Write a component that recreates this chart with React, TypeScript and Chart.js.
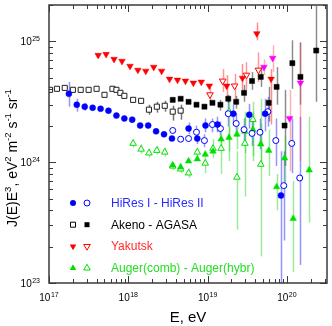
import React, { useEffect, useRef } from 'react';
import { Chart, registerables } from 'chart.js';

Chart.register(...registerables);

const FONT = '"Liberation Sans", Arial, Helvetica, sans-serif';

const xMin = 1e17;
const xMax = 3.2e20;
const yMin = 1e23;
const yMax = 2e25;
const xTickDecades = [17, 18, 19, 20];
const yTickDecades = [23, 24, 25];
const xTitle = 'E, eV';
const legendLabels = ['HiRes I - HiRes II', 'Akeno - AGASA', 'Yakutsk', 'Auger(comb) - Auger(hybr)'];

// HiRes I (filled circles)
const hiresIE = [1.78e17, 2.24e17, 2.82e17, 3.55e17, 4.47e17, 5.62e17, 7.08e17, 8.91e17, 1.12e18, 1.41e18, 1.78e18, 2.24e18, 2.82e18, 3.55e18, 5.75e18, 7.4e18, 9.4e18, 1.33e19, 2.11e19, 3.35e19, 5.31e19, 8.41e19];
const hiresIJ = [3.68e24, 2.99e24, 2.88e24, 2.82e24, 2.77e24, 2.67e24, 2.43e24, 2.3e24, 2.25e24, 2.01e24, 2.01e24, 1.8e24, 1.7e24, 1.57e24, 1.9e24, 1.57e24, 2.01e24, 2.05e24, 2.52e24, 2.47e24, 2.52e24, 5.3e23];
const hiresIHi = [4.61e24, 3.35e24, 3.1e24, null, null, null, null, null, null, null, null, null, null, null, 2.13e24, 1.77e24, 2.3e24, 2.38e24, 2.99e24, 3.04e24, 3.35e24, 1.23e24];
const hiresILo = [2.88e24, 2.62e24, 2.67e24, null, null, null, null, null, null, null, null, null, null, null, 1.7e24, 1.41e24, 1.77e24, 1.77e24, 2.05e24, 1.9e24, 1.8e24, 5e22];

// HiRes II (open circles)
const hiresIIE = [3.63e18, 4.57e18, 5.75e18, 7.24e18, 9.12e18, 1.15e19, 1.45e19, 1.82e19, 2.29e19, 2.88e19, 3.63e19, 4.57e19, 5.75e19, 7.24e19, 9.12e19, 1.15e20, 1.45e20];
const hiresIIJ = [1.83e24, 1.55e24, 1.57e24, 1.77e24, 1.51e24, 2.05e24, 1.9e24, 2.52e24, 2.09e24, 1.86e24, 1.73e24, 1.77e24, 2.62e24, 1.51e24, 6.4e23, 1.43e24, 7.4e23];
const hiresIIHi = [null, null, null, 2.01e24, 1.7e24, 2.3e24, 2.17e24, 3.16e24, 2.52e24, 2.3e24, 2.17e24, 2.3e24, 3.47e24, 2.3e24, 1.23e24, 2.3e24, 2.38e24];
const hiresIILo = [null, null, null, 1.57e24, 1.33e24, 1.77e24, 1.66e24, 1.97e24, 1.63e24, 1.49e24, 1.36e24, 1.28e24, 1.97e24, 9.3e23, 2.25e23, 8.1e23, 1.41e23];

// Akeno (open squares)
const akenoE = [1.03e17, 1.26e17, 1.58e17, 2.0e17, 2.51e17, 3.16e17, 3.98e17, 5.01e17, 6.31e17, 7.08e17, 7.94e17, 8.91e17, 1.15e18, 1.45e18, 1.82e18, 2.29e18, 2.88e18, 3.63e18, 4.57e18];
const akenoJ = [3.97e24, 4.05e24, 4.12e24, 3.97e24, 3.97e24, 3.97e24, 4.05e24, 3.61e24, 4.05e24, 3.97e24, 3.75e24, 3.54e24, 3.28e24, 3.22e24, 2.72e24, 2.88e24, 2.93e24, 2.62e24, 2.67e24];
const akenoHi = [null, null, null, null, null, null, null, null, null, null, null, null, null, null, 2.99e24, 3.16e24, 3.22e24, 2.93e24, 2.99e24];
const akenoLo = [null, null, null, null, null, null, null, null, null, null, null, null, null, null, 2.47e24, 2.57e24, 2.62e24, 2.21e24, 2.25e24];

// AGASA (filled squares)
const agasaE = [3.63e18, 4.57e18, 5.75e18, 7.24e18, 9.12e18, 1.15e19, 1.45e19, 1.82e19, 2.29e19, 2.88e19, 3.63e19, 4.68e19, 5.89e19, 7.41e19, 9.33e19, 1.17e20, 1.48e20, 2.34e20];
const agasaJ = [3.28e24, 3.35e24, 3.16e24, 2.99e24, 2.88e24, 3.1e24, 2.99e24, 3.35e24, 3.16e24, 3.75e24, 4.7e24, 5.08e24, 3.1e24, 4.2e24, 2.01e24, 6.6e24, 5.08e24, 8.4e24];
const agasaHi = [null, null, null, null, null, null, 3.28e24, 3.61e24, 3.54e24, 4.36e24, 5.57e24, 6.12e24, 4.2e24, 6.12e24, 3.97e24, 1.02e25, 9.8e24, 1.97e25];
const agasaLo = [null, null, null, null, null, null, 2.67e24, 3.1e24, 2.77e24, 3.16e24, 3.97e24, 4.2e24, 2.17e24, 2.99e24, 9.3e23, 4.05e24, 2.99e24, 3.16e24];

// Yakutsk (filled down triangles)
const yakE = [4.17e17, 5.25e17, 6.61e17, 8.32e17, 1.05e18, 1.32e18, 1.66e18, 2.09e18, 2.63e18, 3.31e18, 4.17e18, 5.25e18, 6.61e18, 8.32e18, 1.05e19, 1.74e19, 2.75e19, 4.17e19, 6.31e19];
const yakJ = [7.68e24, 7.82e24, 7.12e24, 6.86e24, 6.24e24, 5.79e24, 5.68e24, 6.12e24, 5.68e24, 4.88e24, 4.79e24, 4.7e24, 4.53e24, 4.61e24, 4.28e24, 4.28e24, 4.97e24, 1.16e25, 4.88e24];
const yakHi = [null, null, null, null, null, null, null, null, null, null, null, null, null, null, null, 5.26e24, 6.48e24, 1.43e25, 5.9e24];
const yakLo = [null, null, null, null, null, null, null, null, null, null, null, null, null, null, null, 3.47e24, 3.97e24, 1.02e25, 2.05e24];

// Yakutsk (open down triangles)
const yakOpenE = [1.07e19, 1.55e19, 2.19e19, 3.09e19, 4.37e19];
const yakOpenJ = [3.62e24, 4.7e24, 4.28e24, 5.26e24, 5.79e24];
const yakOpenHi = [4.12e24, 5.9e24, 5.37e24, 6.73e24, 8.1e24];
const yakOpenLo = [3.16e24, 3.82e24, 3.35e24, 3.97e24, 4.61e24];

// Yakutsk (magenta down triangles)
const yakMagE = [5.13e19, 6.61e19, 1.08e20, 1.48e20];
const yakMagJ = [6.12e24, 7.26e24, 2.3e24, 4.53e24];
const yakMagHi = [7.12e24, 9.27e24, 3.97e24, 9.8e24];
const yakMagLo = [5.26e24, 5.57e24, 8.4e23, 1.02e24];

// Auger combined (filled up triangles)
const augCombE = [3.63e18, 4.57e18, 5.75e18, 7.41e18, 9.33e18, 1.17e19, 1.48e19, 1.86e19, 2.34e19, 2.95e19, 3.72e19, 4.68e19, 5.89e19, 7.41e19, 9.33e19, 1.2e20, 1.91e20];
const augCombJ = [9.45e23, 9.1e23, 1.02e24, 1.06e24, 1.16e24, 1.23e24, 1.55e24, 1.6e24, 1.7e24, 1.8e24, 1.86e24, 1.41e24, 1.25e24, 6.24e23, 1.08e24, 3.41e23, 8.6e23];
const augCombHi = [null, null, null, null, null, null, 1.77e24, 1.97e24, 2.17e24, 2.38e24, 2.62e24, 2.09e24, 1.86e24, 8.0e23, 1.63e24, 7.0e23, 2.38e24];
const augCombLo = [null, null, null, null, null, null, 1.33e24, 1.23e24, 1.28e24, 1.19e24, 1.12e24, 9.3e23, 7.7e23, 3.99e23, 6.4e23, 1.23e23, 3.17e23];

// Auger hybrid (open up triangles)
const augHybE = [1.15e18, 1.45e18, 1.82e18, 2.29e18, 2.88e18, 3.63e18, 4.57e18, 5.75e18, 7.41e18, 9.33e18, 1.17e19, 1.48e19, 1.86e19, 2.34e19, 2.95e19, 3.72e19, 4.68e19];
const augHybJ = [1.43e24, 1.28e24, 1.19e24, 1.25e24, 1.21e24, 9.27e23, 8.77e23, 8.13e23, 1.21e24, 9.8e23, 1.3e24, 1.3e24, 2.62e24, 7.5e23, 1.43e24, 2.25e24, 9.6e23];
const augHybHi = [1.55e24, 1.4e24, 1.3e24, 1.36e24, 1.32e24, 1.0e24, 9.6e23, 8.9e23, 1.32e24, 1.19e24, 1.55e24, 1.63e24, 3.35e24, 1.23e24, 2.62e24, 3.16e24, 3.35e24];
const augHybLo = [1.32e24, 1.17e24, 1.09e24, 1.15e24, 1.11e24, 8.6e23, 8.1e23, 7.4e23, 1.11e24, 8.1e23, 1.08e24, 8.0e23, 1.02e24, 2.76e23, 5.2e23, 1.02e24, 1.66e23];

const BLUE = '#0000ff';
const BLACK = '#000000';
const RED = '#ff0000';
const MAGENTA = '#ff00ff';
const GREEN = '#00e000';

const pts = (xs: number[], ys: number[]) => xs.map((x, i) => ({ x, y: ys[i] }));

type Marker = { shape: 'circle' | 'square' | 'up' | 'down'; filled: boolean; color: string };

const legendMarkers: Marker[][] = [
  [{ shape: 'circle', filled: true, color: BLUE }, { shape: 'circle', filled: false, color: BLUE }],
  [{ shape: 'square', filled: false, color: BLACK }, { shape: 'square', filled: true, color: BLACK }],
  [{ shape: 'down', filled: true, color: RED }, { shape: 'down', filled: false, color: RED }],
  [{ shape: 'up', filled: true, color: GREEN }, { shape: 'up', filled: false, color: GREEN }],
];
const legendTextColors = ['#2a2aff', '#000000', '#ff2a2a', '#22dd22'];

function drawMarker(ctx: CanvasRenderingContext2D, m: Marker, x: number, y: number) {
  ctx.beginPath();
  if (m.shape === 'circle') {
    ctx.arc(x, y, 3, 0, Math.PI * 2);
  } else if (m.shape === 'square') {
    ctx.rect(x - 2.5, y - 2.5, 5, 5);
  } else {
    const r = 3.8;
    const s = m.shape === 'up' ? 1 : -1;
    ctx.moveTo(x, y - s * r);
    ctx.lineTo(x + r * 0.866, y + s * r * 0.5);
    ctx.lineTo(x - r * 0.866, y + s * r * 0.5);
    ctx.closePath();
  }
  if (m.filled) {
    ctx.fillStyle = m.color;
    ctx.fill();
  } else {
    ctx.fillStyle = '#ffffff';
    ctx.fill();
    ctx.strokeStyle = m.color;
    ctx.lineWidth = 1;
    ctx.stroke();
  }
}

function drawPow(ctx: CanvasRenderingContext2D, exp: string, x: number, y: number, align: 'center' | 'right') {
  ctx.font = `10px ${FONT}`;
  const w1 = ctx.measureText('10').width;
  ctx.font = `7px ${FONT}`;
  const w2 = ctx.measureText(exp).width;
  const total = w1 + w2 + 0.5;
  const start = align === 'center' ? x - total / 2 : x - total;
  ctx.textAlign = 'left';
  ctx.textBaseline = 'alphabetic';
  ctx.font = `10px ${FONT}`;
  ctx.fillText('10', start, y);
  ctx.font = `7px ${FONT}`;
  ctx.fillText(exp, start + w1 + 0.5, y - 4.5);
}

const errorBarsPlugin = {
  id: 'errorBars',
  beforeDatasetsDraw(chart: any) {
    const { ctx, chartArea: a, scales } = chart;
    const xs = scales.x;
    const ys = scales.y;
    ctx.save();
    ctx.beginPath();
    ctx.rect(a.left, a.top, a.right - a.left, a.bottom - a.top);
    ctx.clip();
    ctx.lineWidth = 1.5;
    chart.data.datasets.forEach((ds: any) => {
      if (!ds.errHi) return;
      ctx.strokeStyle = ds.errColor;
      ds.data.forEach((p: any, j: number) => {
        const hi = ds.errHi[j];
        const lo = ds.errLo[j];
        if (hi == null || lo == null) return;
        const x = Math.round(xs.getPixelForValue(p.x)) + 0.5;
        ctx.beginPath();
        ctx.moveTo(x, ys.getPixelForValue(hi));
        ctx.lineTo(x, ys.getPixelForValue(lo));
        ctx.stroke();
      });
    });
    ctx.restore();
  },
};

const decorPlugin = {
  id: 'decor',
  afterDraw(chart: any) {
    const { ctx, chartArea: a, scales } = chart;
    const xs = scales.x;
    const ys = scales.y;
    ctx.save();
    ctx.strokeStyle = '#3a3a3a';
    ctx.lineWidth = 1;
    const line = (x1: number, y1: number, x2: number, y2: number) => {
      ctx.beginPath();
      ctx.moveTo(x1, y1);
      ctx.lineTo(x2, y2);
      ctx.stroke();
    };
    // ticks x
    for (const d of xTickDecades) {
      for (let m = 1; m <= 9; m++) {
        const v = m * Math.pow(10, d);
        if (v < xMin * 0.999 || v > xMax) continue;
        const px = Math.round(xs.getPixelForValue(v)) + 0.5;
        const len = m === 1 ? 7 : 4;
        line(px, a.bottom, px, a.bottom - len);
        line(px, a.top, px, a.top + len);
      }
    }
    for (const d of yTickDecades) {
      for (let m = 1; m <= 9; m++) {
        const v = m * Math.pow(10, d);
        if (v < yMin * 0.999 || v > yMax * 1.001) continue;
        const py = Math.round(ys.getPixelForValue(v)) + 0.5;
        const len = m === 1 ? 7 : 4;
        line(a.left, py, a.left + len, py);
        line(a.right, py, a.right - len, py);
      }
    }
    // frame
    ctx.lineWidth = 1.5;
    ctx.strokeStyle = '#3a3a3a';
    ctx.strokeRect(a.left, a.top, a.right - a.left, a.bottom - a.top);

    // tick labels
    ctx.fillStyle = '#000';
    for (const d of xTickDecades) {
      const px = xs.getPixelForValue(Math.pow(10, d));
      drawPow(ctx, String(d), px, a.bottom + 18, 'center');
    }
    for (const d of yTickDecades) {
      const py = ys.getPixelForValue(Math.pow(10, d));
      drawPow(ctx, String(d), a.left - 9, py + 4, 'right');
    }

    // x title
    ctx.font = `15px ${FONT}`;
    ctx.textAlign = 'center';
    ctx.textBaseline = 'alphabetic';
    ctx.fillText(xTitle, (a.left + a.right) / 2, a.bottom + 39);

    // y title with superscripts
    const segs: [string, boolean][] = [
      ['J(E)E', false], ['3', true], [', eV', false], ['2', true], [' m', false], ['-2', true],
      [' s', false], ['-1', true], [' sr', false], ['-1', true],
    ];
    const big = 14;
    const small = 9.5;
    let total = 0;
    const widths = segs.map(([t, sup]) => {
      ctx.font = `${sup ? small : big}px ${FONT}`;
      const w = ctx.measureText(t).width;
      total += w;
      return w;
    });
    ctx.save();
    ctx.translate(17, (a.top + a.bottom) / 2 + 14);
    ctx.rotate(-Math.PI / 2);
    ctx.textAlign = 'left';
    let cx = -total / 2;
    segs.forEach(([t, sup], i) => {
      ctx.font = `${sup ? small : big}px ${FONT}`;
      ctx.fillText(t, cx, sup ? -6 : 0);
      cx += widths[i];
    });
    ctx.restore();

    // legend
    legendLabels.forEach((label, i) => {
      const y = a.bottom - 80 + i * 21.7;
      drawMarker(ctx, legendMarkers[i][0], a.left + 24, y);
      drawMarker(ctx, legendMarkers[i][1], a.left + 38, y);
      ctx.font = `12px ${FONT}`;
      ctx.fillStyle = legendTextColors[i];
      ctx.textAlign = 'left';
      ctx.textBaseline = 'middle';
      ctx.fillText(label, a.left + 62, y + 0.5);
    });
    ctx.restore();
  },
};

export default function App() {
  const ref = useRef<HTMLCanvasElement | null>(null);
  useEffect(() => {
    document.body.style.margin = '0';
    const canvas = ref.current;
    if (!canvas) return;
    const circ = 3;
    const sq = 3.6;
    const tri = 3.8;
    const chart = new Chart(canvas, {
      type: 'scatter',
      data: {
        datasets: [
          { label: 'HiRes I', data: pts(hiresIE, hiresIJ), pointStyle: 'circle', pointRadius: circ, backgroundColor: BLUE, borderColor: BLUE, borderWidth: 0.5, errHi: hiresIHi, errLo: hiresILo, errColor: 'rgba(60,60,255,0.55)' } as any,
          { label: 'HiRes II', data: pts(hiresIIE, hiresIIJ), pointStyle: 'circle', pointRadius: circ, backgroundColor: '#ffffff', borderColor: BLUE, borderWidth: 1, errHi: hiresIIHi, errLo: hiresIILo, errColor: 'rgba(60,60,255,0.55)' } as any,
          { label: 'Akeno', data: pts(akenoE, akenoJ), pointStyle: 'rect', pointRadius: sq, backgroundColor: '#ffffff', borderColor: '#222', borderWidth: 1, errHi: akenoHi, errLo: akenoLo, errColor: 'rgba(0,0,0,0.55)' } as any,
          { label: 'AGASA', data: pts(agasaE, agasaJ), pointStyle: 'rect', pointRadius: sq, backgroundColor: BLACK, borderColor: BLACK, borderWidth: 0.5, errHi: agasaHi, errLo: agasaLo, errColor: 'rgba(0,0,0,0.45)' } as any,
          { label: 'Yakutsk', data: pts(yakE, yakJ), pointStyle: 'triangle', rotation: 180, pointRadius: tri, backgroundColor: RED, borderColor: RED, borderWidth: 0.5, errHi: yakHi, errLo: yakLo, errColor: 'rgba(255,0,0,0.45)' } as any,
          { label: 'Yakutsk open', data: pts(yakOpenE, yakOpenJ), pointStyle: 'triangle', rotation: 180, pointRadius: tri, backgroundColor: '#ffffff', borderColor: RED, borderWidth: 1, errHi: yakOpenHi, errLo: yakOpenLo, errColor: 'rgba(255,0,0,0.4)' } as any,
          { label: 'Yakutsk magenta', data: pts(yakMagE, yakMagJ), pointStyle: 'triangle', rotation: 180, pointRadius: tri, backgroundColor: MAGENTA, borderColor: MAGENTA, borderWidth: 0.5, errHi: yakMagHi, errLo: yakMagLo, errColor: 'rgba(255,60,60,0.4)' } as any,
          { label: 'Auger comb', data: pts(augCombE, augCombJ), pointStyle: 'triangle', pointRadius: tri, backgroundColor: GREEN, borderColor: GREEN, borderWidth: 0.5, errHi: augCombHi, errLo: augCombLo, errColor: 'rgba(0,210,0,0.4)' } as any,
          { label: 'Auger hybr', data: pts(augHybE, augHybJ), pointStyle: 'triangle', pointRadius: tri, backgroundColor: '#ffffff', borderColor: GREEN, borderWidth: 1, errHi: augHybHi, errLo: augHybLo, errColor: 'rgba(0,210,0,0.4)' } as any,
        ],
      },
      options: {
        responsive: false,
        animation: false,
        devicePixelRatio: 1,
        events: [],
        layout: { padding: { left: 49, right: 2, top: 2, bottom: 43 } },
        plugins: { legend: { display: false }, tooltip: { enabled: false } },
        scales: {
          x: { type: 'logarithmic', min: xMin, max: xMax, display: false },
          y: { type: 'logarithmic', min: yMin, max: yMax, display: false },
        },
      },
      plugins: [errorBarsPlugin, decorPlugin],
    });
    return () => chart.destroy();
  }, []);
  return (
    <div style={{ width: 332, height: 326 }}>
      <canvas ref={ref} width={332} height={326} style={{ width: 332, height: 326, display: 'block' }} />
    </div>
  );
}
